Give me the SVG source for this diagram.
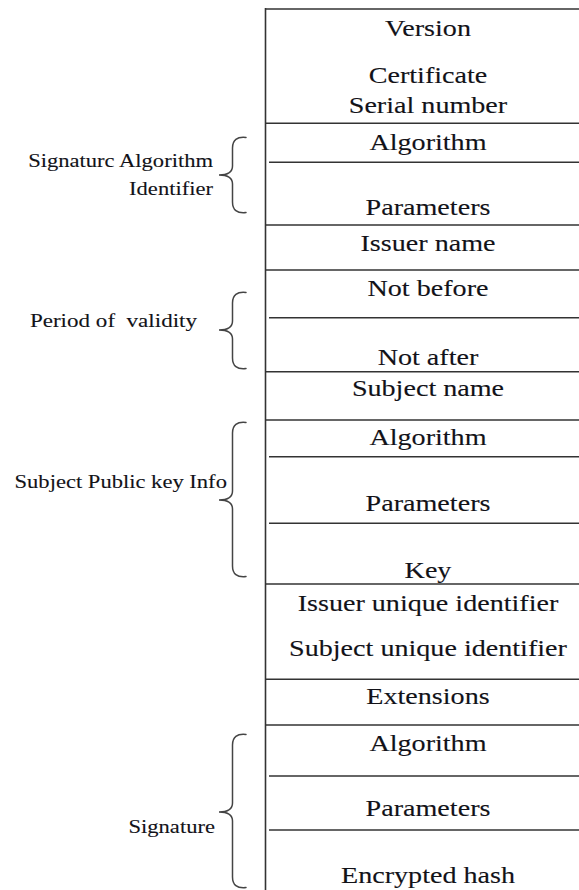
<svg xmlns="http://www.w3.org/2000/svg" width="579" height="890" viewBox="0 0 579 890">
  <style>
    .rule { stroke: #333; stroke-width: 1.6; fill: none; }
    .brace { stroke: #444; stroke-width: 1.5; fill: none; stroke-linecap: round; }
    .field { font-family: "Liberation Serif", "Times New Roman", serif; font-size: 22.5px; fill: #121218; stroke: #121218; stroke-width: 0.12; text-anchor: middle; }
    .label { font-family: "Liberation Serif", "Times New Roman", serif; font-size: 18.5px; fill: #121218; stroke: #121218; stroke-width: 0.1; text-anchor: end; white-space: pre; }
  </style>

  <!-- certificate field column: x scaled by 1.25, so x = 428 / 1.25 -->
  <g id="frame">
    <line class="rule" x1="265.5" y1="8" x2="265.5" y2="890"/>
    <line class="rule" x1="265" y1="9" x2="579" y2="9"/>
  </g>

  <g id="field-version">
    <text class="field" x="342.4" y="36.5" transform="scale(1.25 1)">Version</text>
  </g>
  <g id="field-serial">
    <text class="field" x="342.4" y="83.5" transform="scale(1.25 1)">Certificate</text>
    <text class="field" x="342.4" y="113" transform="scale(1.25 1)">Serial number</text>
    <line class="rule" x1="265" y1="123.3" x2="579" y2="123.3"/>
  </g>
  <g id="field-sig-alg-algorithm">
    <text class="field" x="342.4" y="150" transform="scale(1.25 1)">Algorithm</text>
    <line class="rule" x1="269" y1="162.3" x2="579" y2="162.3"/>
  </g>
  <g id="field-sig-alg-parameters">
    <text class="field" x="342.4" y="215" transform="scale(1.25 1)">Parameters</text>
    <line class="rule" x1="265" y1="225" x2="579" y2="225"/>
  </g>
  <g id="field-issuer-name">
    <text class="field" x="342.4" y="251.5" transform="scale(1.25 1)">Issuer name</text>
    <line class="rule" x1="265" y1="270" x2="579" y2="270"/>
  </g>
  <g id="field-not-before">
    <text class="field" x="342.4" y="296.5" transform="scale(1.25 1)">Not before</text>
    <line class="rule" x1="269" y1="317.7" x2="579" y2="317.7"/>
  </g>
  <g id="field-not-after">
    <text class="field" x="342.4" y="365" transform="scale(1.25 1)">Not after</text>
    <line class="rule" x1="265" y1="371.7" x2="579" y2="371.7"/>
  </g>
  <g id="field-subject-name">
    <text class="field" x="342.4" y="396.5" transform="scale(1.25 1)">Subject name</text>
    <line class="rule" x1="265" y1="420" x2="579" y2="420"/>
  </g>
  <g id="field-spki-algorithm">
    <text class="field" x="342.4" y="445" transform="scale(1.25 1)">Algorithm</text>
    <line class="rule" x1="269" y1="456.7" x2="579" y2="456.7"/>
  </g>
  <g id="field-spki-parameters">
    <text class="field" x="342.4" y="511.5" transform="scale(1.25 1)">Parameters</text>
    <line class="rule" x1="269" y1="523.3" x2="579" y2="523.3"/>
  </g>
  <g id="field-spki-key">
    <text class="field" x="342.4" y="578" transform="scale(1.25 1)">Key</text>
    <line class="rule" x1="265" y1="584" x2="579" y2="584"/>
  </g>
  <g id="field-unique-ids">
    <text class="field" x="342.4" y="611.5" transform="scale(1.25 1)">Issuer unique identifier</text>
    <text class="field" x="342.4" y="656.5" transform="scale(1.25 1)">Subject unique identifier</text>
    <line class="rule" x1="265" y1="679.3" x2="579" y2="679.3"/>
  </g>
  <g id="field-extensions">
    <text class="field" x="342.4" y="704" transform="scale(1.25 1)">Extensions</text>
    <line class="rule" x1="265" y1="725" x2="579" y2="725"/>
  </g>
  <g id="field-signature-algorithm">
    <text class="field" x="342.4" y="751" transform="scale(1.25 1)">Algorithm</text>
    <line class="rule" x1="269" y1="776" x2="579" y2="776"/>
  </g>
  <g id="field-signature-parameters">
    <text class="field" x="342.4" y="816" transform="scale(1.25 1)">Parameters</text>
    <line class="rule" x1="269" y1="830" x2="579" y2="830"/>
  </g>
  <g id="field-encrypted-hash">
    <text class="field" x="342.4" y="883" transform="scale(1.25 1)">Encrypted hash</text>
  </g>

  <!-- group labels on the left: x scaled by 1.22 -->
  <g id="group-signature-algorithm-identifier">
    <text class="label" x="174.6" y="167" transform="scale(1.22 1)">Signaturc Algorithm</text>
    <text class="label" x="174.6" y="195" transform="scale(1.22 1)">Identifier</text>
  </g>
  <g id="group-period-of-validity">
    <text class="label" x="161.5" y="327" transform="scale(1.22 1)" textLength="137" lengthAdjust="spacingAndGlyphs">Period of  validity</text>
  </g>
  <g id="group-subject-public-key-info">
    <text class="label" x="186" y="488" transform="scale(1.22 1)">Subject Public key Info</text>
  </g>
  <g id="group-signature">
    <text class="label" x="176.2" y="833" transform="scale(1.22 1)">Signature</text>
  </g>

  <!-- curly braces linking each label to its field range -->
  <g id="braces">
    <path class="brace" d="M246 137.5 Q232.5 136 232.5 148 L232.5 166 Q232.5 175 219 175 Q232.5 175 232.5 184 L232.5 202 Q232.5 214 246 212.5"/>
    <path class="brace" d="M246 292.5 Q232.5 291 232.5 303 L232.5 321 Q232.5 330 219 330 Q232.5 330 232.5 339 L232.5 358 Q232.5 370 246 368.5"/>
    <path class="brace" d="M246 422.5 Q232.5 421 232.5 433 L232.5 491 Q232.5 500 219 500 Q232.5 500 232.5 509 L232.5 566 Q232.5 578 246 576.5"/>
    <path class="brace" d="M246 734.5 Q232.5 733 232.5 745 L232.5 803 Q232.5 812 219 812 Q232.5 812 232.5 821 L232.5 877 Q232.5 889 246 887.5"/>
  </g>
</svg>
